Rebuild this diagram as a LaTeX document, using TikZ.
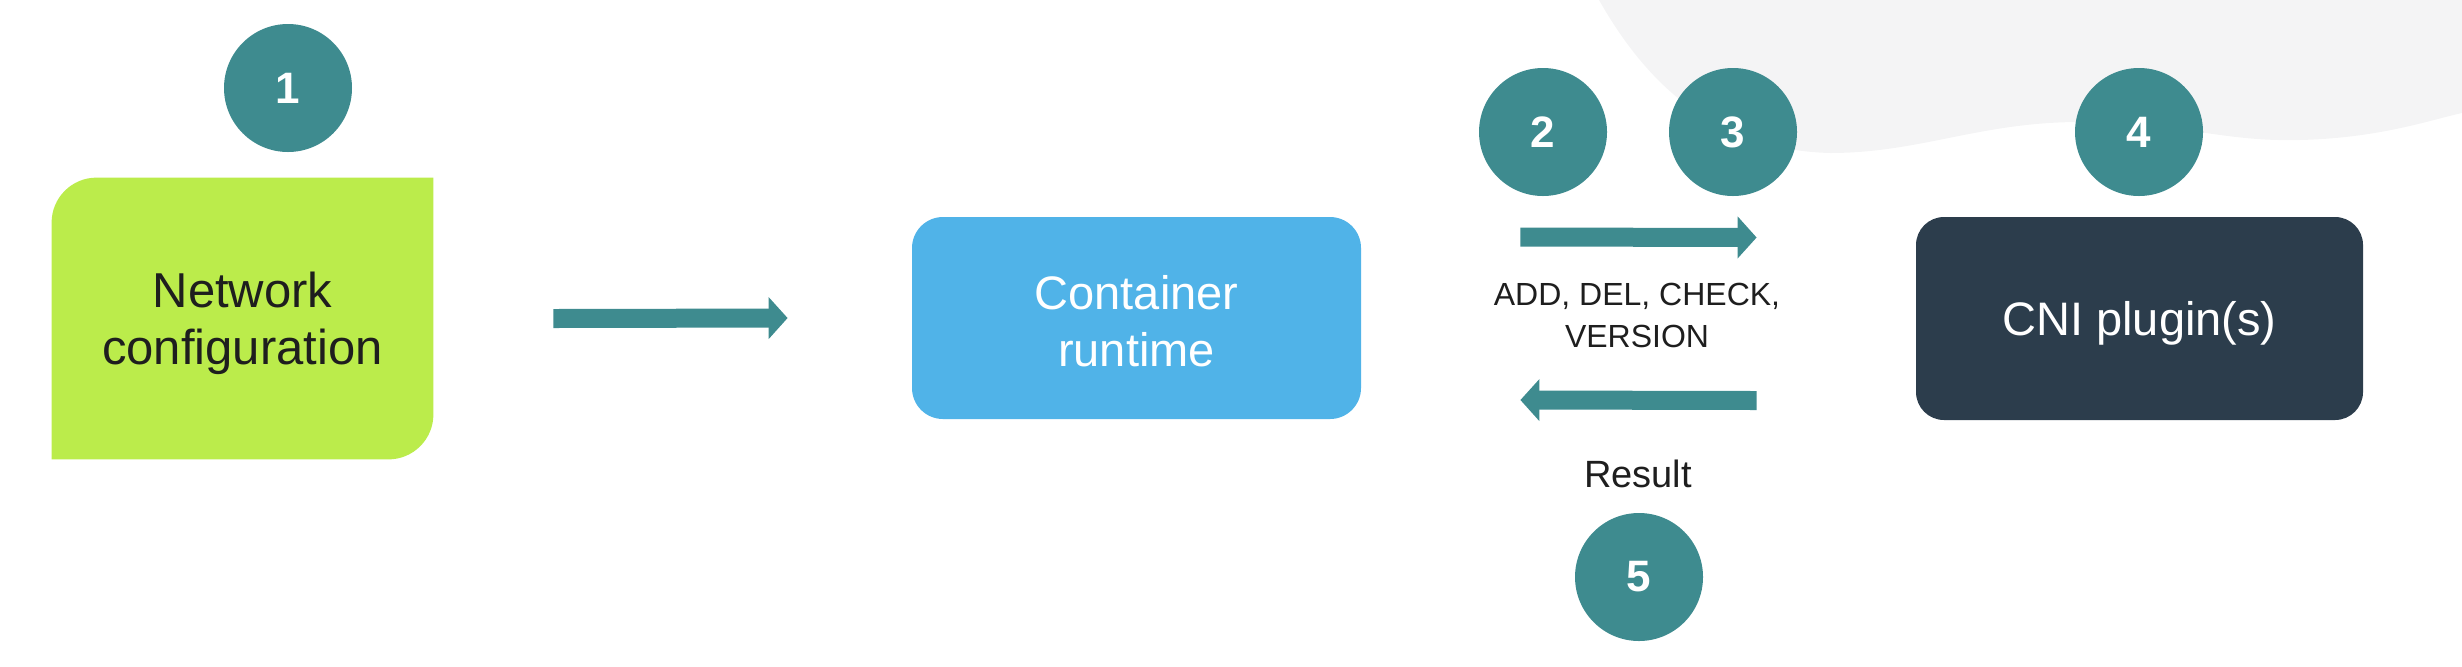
\documentclass[tikz,border=0pt]{standalone}
\usepackage{fontspec}
\setmainfont{Liberation Sans}
\usetikzlibrary{arrows.meta,backgrounds}
\definecolor{teal1}{HTML}{3E8B8F}
\definecolor{lime1}{HTML}{BBEC4B}
\definecolor{sky1}{HTML}{50B3E8}
\definecolor{navy1}{HTML}{2C3D4C}
\definecolor{txt1}{HTML}{1E1E1E}
\definecolor{bg1}{HTML}{F4F4F5}
\tikzset{
  num/.style={circle, fill=teal1, minimum size=64pt, inner sep=0pt, text=white,
    font=\fontsize{22}{26}\selectfont\bfseries},
  boxtxt/.style={align=center, inner sep=0pt, font=\fontsize{23.5}{28.5}\selectfont},
  flow/.style={draw=teal1, line width=9.5pt, -{Triangle[length=9.5pt,width=20.5pt]}},
  lbl/.style={align=center, text=txt1, inner sep=0pt}
}
\begin{document}
\begin{tikzpicture}[x=0.5pt,y=-0.5pt]
\useasboundingbox (0,0) rectangle (2462,666);
% background blob
\fill[bg1] (1599,0) .. controls (1650,90) and (1720,150) .. (1830,153)
  .. controls (1920,153) and (1980,122) .. (2080,122)
  .. controls (2180,122) and (2220,142) .. (2300,140)
  .. controls (2380,138) and (2430,120) .. (2462,113) -- (2462,0) -- cycle;
% boxes
\node[inner sep=0pt, minimum width=190.5pt, minimum height=140.5pt] (net) at (242.5,318.5) {};
\fill[lime1] (net.south west) -- ([yshift=-22.5pt]net.north west)
  arc[start angle=180,end angle=90,radius=22.5pt] -- (net.north east)
  -- ([yshift=22.5pt]net.south east)
  arc[start angle=0,end angle=-90,radius=22.5pt] -- cycle;
\node[boxtxt, text=txt1, font=\fontsize{24.5}{28.5}\selectfont] (nett) at ([yshift=-2.5pt]net.center) {Network\\configuration};
\node[fill=sky1, rounded corners=15.5pt, minimum width=224.5pt, minimum height=101pt, inner sep=0pt] (cr) at (1136.5,318) {};
\node[boxtxt, text=white] (crt) at ([yshift=-1.5pt]cr.center) {Container\\runtime};
\node[fill=navy1, rounded corners=14pt, minimum width=223.5pt, minimum height=101.5pt, inner sep=0pt] (cni) at (2139.5,318.5) {};
\node[boxtxt, text=white] (cnit) at ([yshift=-2.5pt]cni.center) {CNI plugin(s)};
% number circles
\node[num] (n1) at (288,88) {1};
\node[num] (n2) at (1543,132) {2};
\node[num] (n3) at (1733,132) {3};
\node[num] (n4) at (2139,132) {4};
\node[num] (n5) at (1639,577) {5};
% arrows
\draw[flow] ([xshift=60pt]net.east) -- ([xshift=-62pt]cr.west);
\draw[flow] ([xshift=79.5pt,yshift=40.5pt]cr.east) -- ([xshift=-79.5pt,yshift=40.5pt]cni.west);
\draw[flow] ([xshift=-79.5pt,yshift=-41pt]cni.west) -- ([xshift=79.5pt,yshift=-41pt]cr.east);
% labels
\node[lbl, font=\fontsize{16}{21}\selectfont] (ops) at (1637,315) {ADD, DEL, CHECK,\\VERSION};
\node[lbl, font=\fontsize{19}{23}\selectfont] (res) at (1638,474) {Result};
\end{tikzpicture}
\end{document}
